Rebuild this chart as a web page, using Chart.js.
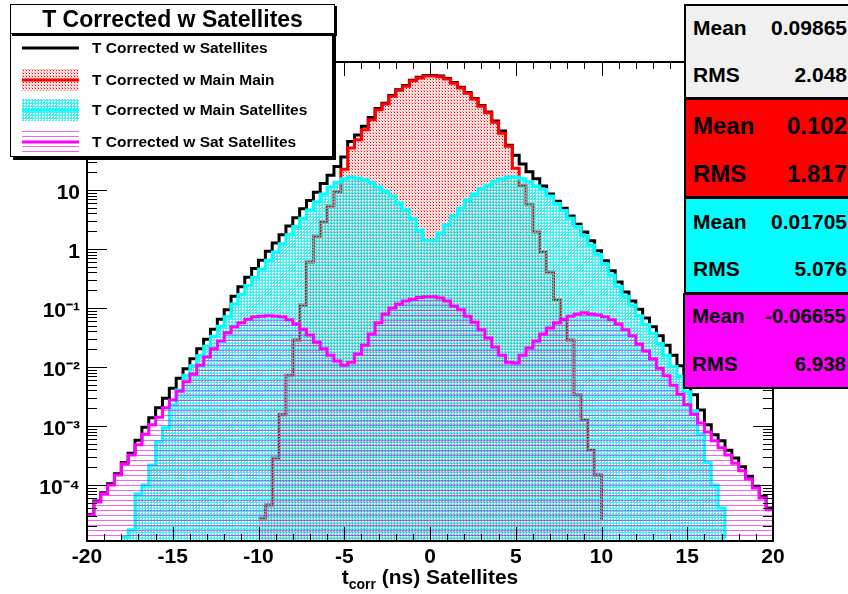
<!DOCTYPE html>
<html>
<head>
<meta charset="utf-8">
<title>T Corrected w Satellites</title>
<script src="https://cdn.jsdelivr.net/npm/chart.js"></script>
<style>
body { margin: 0; background: #fff; overflow: hidden; }
#wrap { position: relative; width: 848px; height: 594px; overflow: hidden;
  font-family: "Liberation Sans", Arial, sans-serif; font-weight: bold; color: #000; }
#histChart { position: absolute; left: 0; top: 0; }
.pave { position: absolute; box-sizing: border-box; border: 1px solid #000; background: #fff; }
#titleBox { left: 10px; top: 4px; width: 325px; height: 30px; font-size: 23px; line-height: 28px;
  text-align: center; box-shadow: 2px 2px 0 #000; z-index: 2; }
#legendBox { left: 10px; top: 33px; width: 323px; height: 124px; box-shadow: 3px 3px 0 #000; z-index: 1; }
.legText { position: absolute; left: 92px; font-size: 15.5px; line-height: 18px; white-space: nowrap; z-index: 3; }
.legSwatch { position: absolute; left: 22px; z-index: 3; }
.stat { position: absolute; box-sizing: border-box; border: 2px solid #000; width: 170px; z-index: 4; }
.stat span { position: absolute; white-space: nowrap; }
.stat .lab { left: 7px; }
.stat .val { right: 5px; }
#xTitle { position: absolute; left: 230px; width: 400px; top: 565px; text-align: center;
  font-size: 21px; line-height: 24px; white-space: nowrap; }
#xTitle sub { font-size: 14px; line-height: 0; vertical-align: -5px; }
</style>
</head>
<body>
<div id="wrap">
  <canvas id="histChart" width="848" height="594"></canvas>
  <div id="titleBox" class="pave">T Corrected w Satellites</div>
  <div id="legendBox" class="pave"></div>
  <div id="legendRows"></div>
  <div id="statBoxes"></div>
  <div id="xTitle">t<sub>corr</sub> (ns) Satellites</div>
</div>
<script>
// histogram binning (100 bins of 0.4 ns)
const xMin = -20, xMax = 20, binWidth = 0.4;

const seriesNames = ['T Corrected w Satellites', 'T Corrected w Main Main',
  'T Corrected w Main Satellites', 'T Corrected w Sat Satellites'];

// entries per bin
const allSat = [
  3.16e-5, 5.37e-5, 7.41e-5, 1.05e-4, 1.55e-4, 2.40e-4, 3.47e-4, 5.75e-4, 9.55e-4, 1.38e-3,
  2.04e-3, 2.95e-3, 4.37e-3, 6.46e-3, 9.33e-3, 1.38e-2, 2.04e-2, 2.95e-2, 4.37e-2, 6.46e-2,
  9.33e-2, 0.158, 0.229, 0.331, 0.468, 0.646, 0.912, 1.26, 1.74, 2.46,
  3.39, 4.79, 6.61, 9.12, 12.9, 17.8, 25.1, 36.3, 66.1, 85.1,
  120, 170, 240, 295, 398, 501, 589, 724, 813, 871,
  871, 851, 776, 661, 550, 447, 355, 269, 209, 148,
  100, 57.5, 38.9, 27.5, 20.4, 15.5, 11.7, 8.51, 6.46, 4.90,
  3.63, 2.63, 1.95, 1.38, 0.933, 0.631, 0.427, 0.275, 0.186, 0.132,
  9.55e-2, 6.76e-2, 4.79e-2, 3.39e-2, 2.34e-2, 1.58e-2, 1.05e-2, 6.03e-3, 3.39e-3, 1.86e-3,
  1.05e-3, 7.08e-4, 5.62e-4, 3.89e-4, 2.88e-4, 2.04e-4, 1.41e-4, 9.55e-5, 6.46e-5, 4.07e-5
];
const mainMain = [
  0, 0, 0, 0, 0, 0, 0, 0, 0, 0,
  0, 0, 0, 0, 0, 0, 0, 0, 0, 0,
  0, 0, 0, 0, 0, 2.75e-5, 4.57e-5, 2.88e-4, 1.55e-3, 7.08e-3,
  2.88e-2, 0.112, 0.603, 1.66, 2.88, 5.37, 9.33, 22.4, 51.3, 70.8,
  105, 155, 229, 288, 389, 490, 575, 708, 794, 851,
  851, 832, 759, 646, 537, 437, 347, 263, 204, 141,
  91.2, 55.0, 23.4, 12.0, 5.62, 1.95, 0.891, 0.407, 0.138, 6.31e-2,
  2.88e-2, 3.39e-3, 1.26e-3, 3.89e-4, 1.48e-4, 2.57e-5, 0, 0, 0, 0,
  0, 0, 0, 0, 0, 0, 0, 0, 0, 0,
  0, 0, 0, 0, 0, 0, 0, 0, 0, 0
];
const mainSat = [
  0, 0, 0, 0, 0, 1.32e-5, 1.74e-5, 7.08e-5, 1.00e-4, 2.19e-4,
  5.37e-4, 9.33e-4, 2.29e-3, 4.07e-3, 7.24e-3, 1.05e-2, 1.55e-2, 2.24e-2, 3.31e-2, 4.90e-2,
  7.08e-2, 0.117, 0.170, 0.240, 0.331, 0.457, 0.646, 0.891, 1.23, 1.74,
  2.40, 3.31, 4.57, 6.31, 8.51, 11.2, 13.5, 15.5, 16.6, 15.8,
  14.8, 13.2, 11.2, 9.55, 7.94, 6.03, 4.57, 3.24, 2.09, 1.41,
  1.41, 1.86, 2.57, 3.63, 4.90, 6.76, 8.51, 10.5, 12.0, 14.1,
  15.5, 16.6, 16.6, 15.5, 13.8, 11.7, 10.2, 7.94, 5.89, 4.47,
  3.31, 2.40, 1.70, 1.17, 0.813, 0.562, 0.363, 0.234, 0.158, 0.112,
  7.41e-2, 5.25e-2, 3.72e-2, 2.51e-2, 1.58e-2, 1.02e-2, 6.92e-3, 3.80e-3, 1.82e-3, 7.41e-4,
  2.40e-4, 1.00e-4, 4.07e-5, 1.26e-5, 0, 0, 0, 0, 0, 0
];
const satSat = [
  3.09e-5, 5.13e-5, 7.08e-5, 1.00e-4, 1.48e-4, 2.29e-4, 3.24e-4, 4.79e-4, 7.24e-4, 1.05e-3,
  1.41e-3, 2.04e-3, 2.75e-3, 3.89e-3, 5.62e-3, 7.59e-3, 1.07e-2, 1.48e-2, 2.04e-2, 2.75e-2,
  3.80e-2, 4.79e-2, 5.62e-2, 6.46e-2, 7.08e-2, 7.24e-2, 7.41e-2, 7.24e-2, 7.08e-2, 6.31e-2,
  5.37e-2, 4.37e-2, 3.47e-2, 2.63e-2, 2.04e-2, 1.58e-2, 1.26e-2, 1.07e-2, 1.20e-2, 1.66e-2,
  2.34e-2, 3.63e-2, 5.62e-2, 7.94e-2, 0.100, 0.117, 0.132, 0.141, 0.151, 0.155,
  0.155, 0.148, 0.132, 0.107, 9.33e-2, 7.24e-2, 5.75e-2, 4.27e-2, 3.09e-2, 2.19e-2,
  1.58e-2, 1.20e-2, 1.17e-2, 1.58e-2, 2.09e-2, 2.75e-2, 3.63e-2, 4.57e-2, 5.62e-2, 6.46e-2,
  7.24e-2, 7.94e-2, 8.32e-2, 7.94e-2, 7.59e-2, 7.08e-2, 6.31e-2, 5.37e-2, 4.27e-2, 3.39e-2,
  2.45e-2, 1.86e-2, 1.38e-2, 9.55e-3, 7.08e-3, 4.90e-3, 3.47e-3, 2.29e-3, 1.58e-3, 1.12e-3,
  7.94e-4, 5.62e-4, 4.27e-4, 3.24e-4, 2.34e-4, 1.74e-4, 1.26e-4, 8.91e-5, 6.03e-5, 3.80e-5
];

const xTickValues = [-20, -15, -10, -5, 0, 5, 10, 15, 20];
const yTickValues = [1e-4, 1e-3, 1e-2, 1e-1, 1, 10, 100, 1000];
const yTickLabels = ['10⁻⁴', '10⁻³', '10⁻²', '10⁻¹', '1', '10', '10²', '10³'];

const statMean = ['0.09865', '0.102', '0.01705', '-0.06655'];
const statRms = ['2.048', '1.817', '5.076', '6.938'];

const yMin = 1.125e-5, yMax = 1476;

//=============================================================================

const canvas = document.getElementById('histChart');
const ctx = canvas.getContext('2d');

// small tiles imitating the ROOT fill styles
function patternTile(kind) {
  const c = document.createElement('canvas');
  const t = c.getContext('2d');
  if (kind === 'red') {
    c.width = 3; c.height = 3;
    t.fillStyle = 'rgba(255,0,0,0.12)'; t.fillRect(0, 0, 3, 3);
    t.fillStyle = '#ff0000'; t.fillRect(1, 1, 1, 1);
    t.fillStyle = 'rgba(220,0,0,0.35)'; t.fillRect(0, 0, 1, 1);
  } else if (kind === 'cyan') {
    c.width = 3; c.height = 3;
    t.fillStyle = 'rgba(0,235,235,0.75)'; t.fillRect(0, 0, 3, 3);
    t.clearRect(2, 0, 1, 1); t.clearRect(0, 2, 1, 1); t.clearRect(2, 2, 1, 1);
  } else {
    c.width = 5; c.height = 5;
    t.fillStyle = 'rgba(230,0,230,0.6)'; t.fillRect(0, 0, 5, 1);
  }
  return c;
}

const redFill = ctx.createPattern(patternTile('red'), 'repeat');
const cyanFill = ctx.createPattern(patternTile('cyan'), 'repeat');
const magentaFill = ctx.createPattern(patternTile('mag'), 'repeat');

const lineColors = ['#000000', '#ff0000', '#00ffff', '#ff00ff'];
const fills = [null, redFill, cyanFill, magentaFill];
const fillKinds = [null, 'red', 'cyan', 'mag'];
const statColors = ['#f0f0f0', '#ff0000', '#00ffff', '#ff00ff'];

function toSteps(vals) {
  const pts = vals.map((v, i) => ({ x: xMin + i * binWidth, y: v }));
  pts.push({ x: xMax, y: vals[vals.length - 1] });
  return pts;
}

const seriesData = [allSat, mainMain, mainSat, satSat];

const datasets = seriesData.map((vals, k) => ({
  label: seriesNames[k],
  data: toSteps(vals),
  stepped: 'before',
  borderColor: lineColors[k],
  borderWidth: 3,
  backgroundColor: fills[k] || 'rgba(0,0,0,0)',
  fill: fills[k] ? 'start' : false,
  pointRadius: 0,
  order: 4 - k
}));

// frame with inside ticks, like ROOT draws it
const frameTicks = {
  id: 'frameTicks',
  afterDatasetsDraw(chart) {
    const c = chart.ctx, a = chart.chartArea, x = chart.scales.x, y = chart.scales.y;
    c.save();
    c.strokeStyle = '#000';
    c.lineWidth = 1;
    c.beginPath();
    for (let v = Math.ceil(x.min); v <= x.max; v++) {
      const px = Math.round(x.getPixelForValue(v)) + 0.5;
      const len = v % 5 === 0 ? 14 : 7;
      c.moveTo(px, a.bottom); c.lineTo(px, a.bottom - len);
      c.moveTo(px, a.top); c.lineTo(px, a.top + len);
    }
    const e0 = Math.floor(Math.log10(y.min)), e1 = Math.ceil(Math.log10(y.max));
    for (let e = e0; e <= e1; e++) {
      for (let k = 1; k <= 9; k++) {
        const v = k * Math.pow(10, e);
        if (v < y.min || v > y.max) continue;
        const py = Math.round(y.getPixelForValue(v)) + 0.5;
        const len = k === 1 ? 20 : 10;
        c.moveTo(a.left, py); c.lineTo(a.left + len, py);
        c.moveTo(a.right, py); c.lineTo(a.right - len, py);
      }
    }
    c.stroke();
    c.lineWidth = 2;
    c.strokeRect(a.left, a.top, a.right - a.left, a.bottom - a.top);
    c.restore();
  }
};

const tickFont = { family: '"Liberation Sans", Arial, sans-serif', size: 21, weight: 'bold' };

const histChart = new Chart(ctx, {
  type: 'line',
  data: { datasets: datasets },
  options: {
    responsive: false,
    animation: false,
    events: [],
    layout: { padding: { top: 62, right: 75, left: 0, bottom: 0 } },
    plugins: { legend: { display: false }, tooltip: { enabled: false } },
    scales: {
      x: {
        type: 'linear', min: xMin, max: xMax,
        grid: { display: false, drawTicks: false },
        border: { display: false },
        afterBuildTicks: s => { s.ticks = xTickValues.map(v => ({ value: v })); },
        afterFit: s => { s.height = 53; },
        ticks: { font: tickFont, color: '#000', padding: 4, maxRotation: 0, autoSkip: false,
          callback: v => String(v) }
      },
      y: {
        type: 'logarithmic', min: yMin, max: yMax,
        grid: { display: false, drawTicks: false },
        border: { display: false },
        afterBuildTicks: s => { s.ticks = yTickValues.map(v => ({ value: v })); },
        afterFit: s => { s.width = 87; },
        ticks: { font: tickFont, color: '#000', padding: 7, autoSkip: false, labelOffset: 3,
          callback: (v, i) => yTickLabels[i] }
      }
    }
  },
  plugins: [frameTicks]
});

// legend (ROOT TLegend look)
const legendRows = document.getElementById('legendRows');
const rowCenters = [48, 80, 110, 142];
seriesNames.forEach((name, k) => {
  const sw = document.createElement('canvas');
  sw.width = 57; sw.height = 22;
  sw.className = 'legSwatch';
  sw.style.top = (rowCenters[k] - 11) + 'px';
  const t = sw.getContext('2d');
  if (fillKinds[k]) {
    t.fillStyle = t.createPattern(patternTile(fillKinds[k]), 'repeat');
    t.fillRect(0, 0, 57, 22);
  }
  t.fillStyle = lineColors[k];
  t.fillRect(0, 9.5, 57, 3);
  legendRows.appendChild(sw);

  const tx = document.createElement('div');
  tx.className = 'legText';
  tx.style.top = (rowCenters[k] - 9) + 'px';
  tx.textContent = name;
  legendRows.appendChild(tx);
});

// stats boxes on the right
const statBoxes = document.getElementById('statBoxes');
const statGeom = [
  { left: 684, top: 4, height: 95, size: 21, lh: 24, rows: [10, 57] },
  { left: 684, top: 98, height: 100, size: 24, lh: 28, rows: [12, 60] },
  { left: 684, top: 197, height: 97, size: 21, lh: 24, rows: [11, 58] },
  { left: 683, top: 293, height: 96, size: 20.5, lh: 24, rows: [9, 57] }
];
statGeom.forEach((g, k) => {
  const b = document.createElement('div');
  b.className = 'stat';
  b.style.left = g.left + 'px';
  b.style.top = g.top + 'px';
  b.style.height = g.height + 'px';
  b.style.background = statColors[k];
  b.style.fontSize = g.size + 'px';
  b.style.lineHeight = g.lh + 'px';
  b.innerHTML =
    `<span class="lab" style="top:${g.rows[0]}px">Mean</span>` +
    `<span class="val" style="top:${g.rows[0]}px">${statMean[k]}</span>` +
    `<span class="lab" style="top:${g.rows[1]}px">RMS</span>` +
    `<span class="val" style="top:${g.rows[1]}px">${statRms[k]}</span>`;
  statBoxes.appendChild(b);
});
</script>
</body>
</html>
